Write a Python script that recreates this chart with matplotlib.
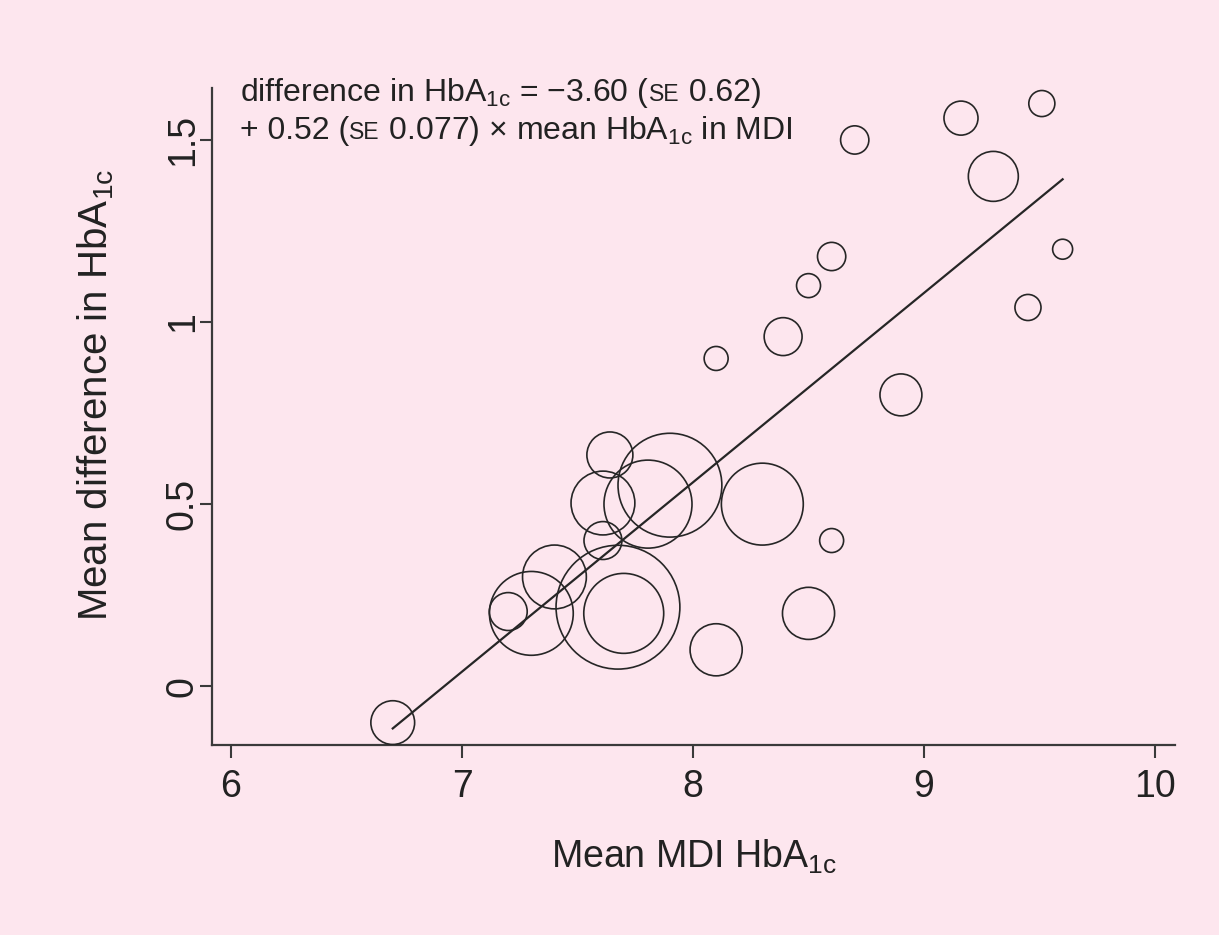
import numpy as np
import matplotlib
matplotlib.use("Agg")
import matplotlib.pyplot as plt
from matplotlib.offsetbox import TextArea, HPacker, VPacker, AnchoredOffsetbox

plt.rcParams['font.family'] = ['Liberation Sans', 'DejaVu Sans']
plt.rcParams['mathtext.fontset'] = 'custom'
plt.rcParams['mathtext.rm'] = 'Liberation Sans'
plt.rcParams['mathtext.it'] = 'Liberation Sans'
plt.rcParams['mathtext.default'] = 'regular'

# --- data ---
mean_mdi = [6.70, 7.20, 7.30, 7.40, 7.61, 7.64, 7.61, 7.70, 7.675, 7.805, 7.90, 8.30,
            8.60, 8.50, 8.10, 8.70, 9.16, 9.51, 9.30, 9.60, 9.45, 8.90, 8.60, 8.50,
            8.39, 8.10]
mean_diff = [-0.10, 0.205, 0.20, 0.30, 0.40, 0.635, 0.503, 0.20, 0.217, 0.50, 0.552, 0.50,
             0.40, 0.20, 0.10, 1.50, 1.56, 1.60, 1.40, 1.20, 1.04, 0.80, 1.18, 1.10,
             0.96, 0.90]
study_weight = [4.8, 3.6, 17.6, 10.2, 3.6, 5.3, 10.2, 16.0, 38.4, 19.4, 27.0, 16.8,
                1.44, 6.8, 6.8, 2.0, 2.9, 1.7, 6.25, 1.0, 1.7, 4.4, 2.0, 1.44,
                3.6, 1.44]
intercept = -3.60
slope = 0.52
x_ticks = [6, 7, 8, 9, 10]
y_ticks = [0, 0.5, 1, 1.5]
y_ticklabels = ["0", "0.5", "1", "1.5"]

bg = '#fde6ee'
ink = '#262626'

fig = plt.figure(figsize=(12.19, 9.35), dpi=100, facecolor=bg)
ax = fig.add_axes([0.174, 0.203, 0.790, 0.703])
ax.set_facecolor(bg)

x = np.array(mean_mdi)
y = np.array(mean_diff)
w = np.array(study_weight)
ax.scatter(x, y, s=w * 207, facecolors='none', edgecolors=ink, linewidths=1.2, zorder=3)

xl = np.array([x.min(), x.max()])
ax.plot(xl, intercept + slope * xl, color=ink, lw=1.6, zorder=4)

ax.set_xlim(5.918, 10.087)
ax.set_ylim(-0.162, 1.643)
for s in ['top', 'right']:
    ax.spines[s].set_visible(False)
for s in ['left', 'bottom']:
    ax.spines[s].set_color('#3a3a3a')
    ax.spines[s].set_linewidth(1.6)

ax.set_xticks(x_ticks)
ax.set_xticklabels([str(t) for t in x_ticks])
ax.set_yticks(y_ticks)
ax.set_yticklabels(y_ticklabels, rotation=90, va='center')
ax.tick_params(axis='both', length=9, width=1.5, color='#3a3a3a', labelsize=27,
               labelcolor='#222222')
ax.tick_params(axis='x', pad=8)
ax.tick_params(axis='y', pad=-1)

ax.set_xlabel("Mean MDI HbA$_{1c}$", fontsize=27, color='#222222', labelpad=24)
ax.set_ylabel("Mean difference in HbA$_{1c}$", fontsize=29, color='#222222')
ax.yaxis.set_label_coords(-0.1, 0.533)

fs = 23
tp = dict(fontsize=fs, color='#222222')
sp = dict(fontsize=fs * 0.72, color='#222222')
line1 = HPacker(children=[TextArea("difference in HbA$_{1c}$ = \u2212" + "3.60 (", textprops=tp),
                          TextArea("SE", textprops=sp),
                          TextArea(" 0.62)", textprops=tp)],
                align="baseline", pad=0, sep=0)
line2 = HPacker(children=[TextArea("+ 0.52 (", textprops=tp),
                          TextArea("SE", textprops=sp),
                          TextArea(" 0.077) \u00d7 mean HbA$_{1c}$ in MDI", textprops=tp)],
                align="baseline", pad=0, sep=0)
block = VPacker(children=[line1, line2], align="left", pad=0, sep=3)
ab = AnchoredOffsetbox(loc='upper left', child=block, frameon=False, pad=0, borderpad=0,
                       bbox_to_anchor=(240 / 1219, 1 - 76 / 935),
                       bbox_transform=fig.transFigure)
fig.add_artist(ab)

fig.savefig("out.png", dpi=100, facecolor=bg)
